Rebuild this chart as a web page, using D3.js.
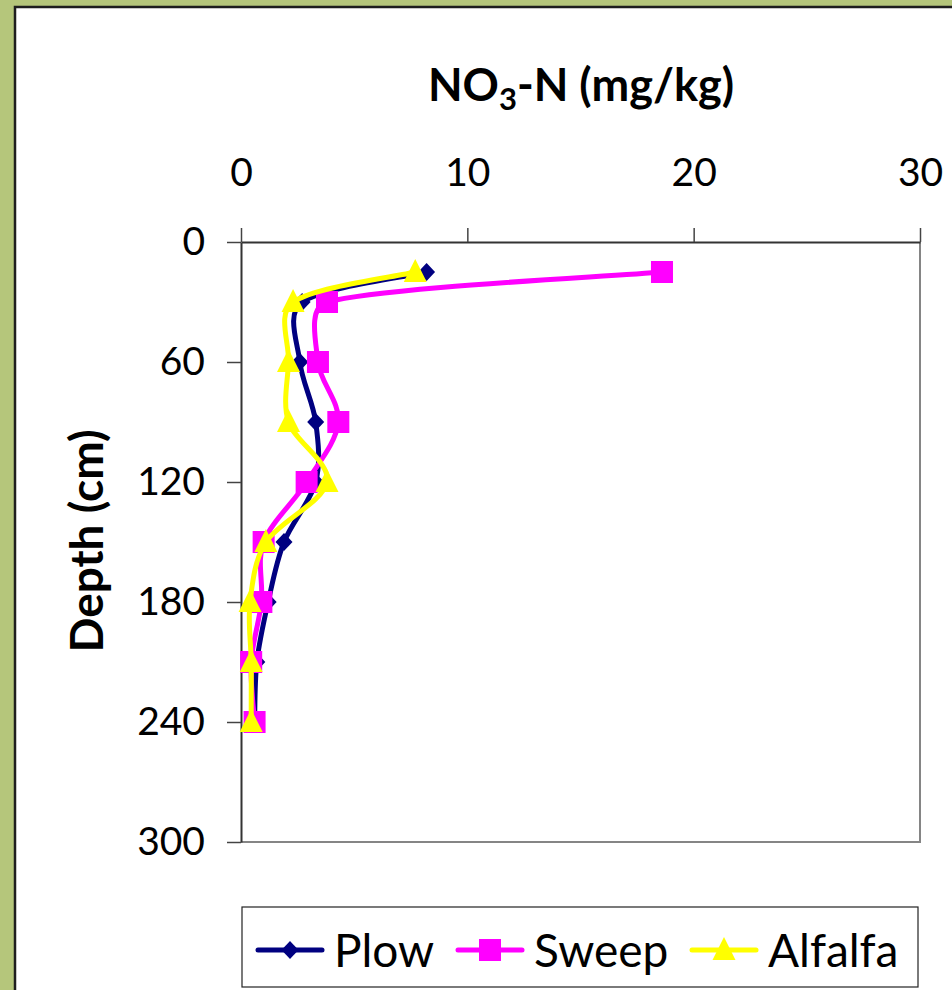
<!DOCTYPE html>
<html><head><meta charset="utf-8">
<script src="https://cdn.jsdelivr.net/npm/d3@7/dist/d3.min.js"></script>
<style>html,body{margin:0;padding:0;background:#b5c67b;overflow:hidden}</style>
</head><body>
<svg id="c" width="952" height="990"></svg>
<script>
const depths = [15, 30, 60, 90, 120, 150, 180, 210, 240];
const plow = [8.2, 2.7, 2.6, 3.3, 3.3, 1.9, 1.2, 0.7, 0.6];
const sweep = [18.6, 3.8, 3.4, 4.3, 2.9, 1.0, 0.9, 0.45, 0.6];
const alfalfa = [7.7, 2.3, 2.1, 2.1, 3.8, 1.1, 0.4, 0.45, 0.45];
const seriesNames = ["Plow", "Sweep", "Alfalfa"];
const xTicks = [0, 10, 20, 30];
const yTicks = [0, 60, 120, 180, 240, 300];

const FONT = "Lato, 'Open Sans', sans-serif";
const svg = d3.select("#c");
svg.append("rect").attr("x",0).attr("y",0).attr("width",952).attr("height",990).attr("fill","#b5c67b");
svg.append("rect").attr("x",15).attr("y",7).attr("width",960).attr("height",1000).attr("fill","#fff");
svg.append("path").attr("d","M15,990V7H952").attr("fill","none").attr("stroke","#1e1e1e").attr("stroke-width",2.5);

const L=241, R=920, T=242, B=842;
const x = d3.scaleLinear().domain([0,30]).range([L,R]);
const y = d3.scaleLinear().domain([0,300]).range([T,B]);

svg.append("path").attr("d",`M${L},${B}H${R}V${T}`).attr("fill","none").attr("stroke","#858585").attr("stroke-width",2);

const xa = svg.append("g").attr("transform",`translate(0,${T})`)
  .call(d3.axisTop(x).tickValues(xTicks).tickSize(14).tickPadding(42).tickSizeOuter(0).tickFormat(d3.format("d")));
const ya = svg.append("g").attr("transform",`translate(${L},0)`)
  .call(d3.axisLeft(y).tickValues(yTicks).tickSize(14).tickPadding(22).tickSizeOuter(0).tickFormat(d3.format("d")));
[xa,ya].forEach(a=>{
  a.select(".domain").attr("stroke","#333").attr("stroke-width",2);
  a.selectAll(".tick line").attr("stroke","#444").attr("stroke-width",1.5);
  a.selectAll("text").attr("font-family",FONT).attr("font-size",39).attr("fill","#000");
});

const t = svg.append("text").attr("x",581).attr("y",101).attr("text-anchor","middle")
  .attr("font-family",FONT).attr("font-weight","bold").attr("font-size",45).attr("fill","#000");
t.append("tspan").text("NO");
t.append("tspan").text("3").attr("font-size",31).attr("dy",9);
t.append("tspan").text("-N (mg/kg)").attr("dy",-9);

svg.append("text").attr("transform","translate(103,541) rotate(-90)").attr("text-anchor","middle")
  .attr("font-family",FONT).attr("font-weight","bold").attr("font-size",46).attr("fill","#000").text("Depth (cm)");

const colors = ["#000080","#ff00ff","#ffff00"];
const data = [plow, sweep, alfalfa];

// Excel-like smoothed line: Catmull-Rom tangents, clamped to a third of each segment
function smoothPath(P){
  const p = d3.path();
  const n = P.length;
  const d = [];
  for(let i=0;i<n-1;i++) d.push(Math.hypot(P[i+1][0]-P[i][0], P[i+1][1]-P[i][1]));
  const tang = P.map((q,i)=>{
    const a = P[Math.max(0,i-1)], b = P[Math.min(n-1,i+1)];
    return [(b[0]-a[0])/6, (b[1]-a[1])/6];
  });
  const clamp = (v,lim)=>{ const l=Math.hypot(v[0],v[1]); return l>lim?[v[0]*lim/l,v[1]*lim/l]:v; };
  p.moveTo(P[0][0],P[0][1]);
  for(let i=0;i<n-1;i++){
    const t1 = clamp(tang[i], d[i]/3), t2 = clamp(tang[i+1], d[i]/3);
    p.bezierCurveTo(P[i][0]+t1[0],P[i][1]+t1[1],P[i+1][0]-t2[0],P[i+1][1]-t2[1],P[i+1][0],P[i+1][1]);
  }
  return p.toString();
}

function marker(g, i, cx, cy){
  if(i===0){
    g.append("path").attr("d",`M${cx},${cy-9}L${cx+8.5},${cy}L${cx},${cy+9}L${cx-8.5},${cy}Z`).attr("fill",colors[0]);
  } else if(i===1){
    g.append("rect").attr("x",cx-11).attr("y",cy-11).attr("width",22).attr("height",22).attr("fill",colors[1]);
  } else {
    g.append("path").attr("d",`M${cx},${cy-13}L${cx+11.5},${cy+10}L${cx-11.5},${cy+10}Z`).attr("fill",colors[2]);
  }
}

data.forEach((vals,i)=>{
  const pts = vals.map((v,k)=>[x(v),y(depths[k])]);
  const g = svg.append("g");
  g.append("path").attr("d",smoothPath(pts)).attr("fill","none").attr("stroke",colors[i]).attr("stroke-width",5);
  pts.forEach(p=>marker(g,i,p[0],p[1]));
});

svg.append("rect").attr("x",242).attr("y",907).attr("width",676).attr("height",80)
  .attr("fill","#fff").attr("stroke","#222").attr("stroke-width",1.2);
const legX = [258, 458, 692];
seriesNames.forEach((n,i)=>{
  const g = svg.append("g");
  g.append("line").attr("x1",legX[i]).attr("x2",legX[i]+64).attr("y1",950).attr("y2",950)
    .attr("stroke",colors[i]).attr("stroke-width",5).attr("stroke-linecap","round");
  marker(g,i,legX[i]+32,950);
  g.append("text").attr("x",legX[i]+76).attr("y",967).attr("font-family",FONT).attr("font-size",46).attr("fill","#000").text(n);
});
</script>
</body></html>
